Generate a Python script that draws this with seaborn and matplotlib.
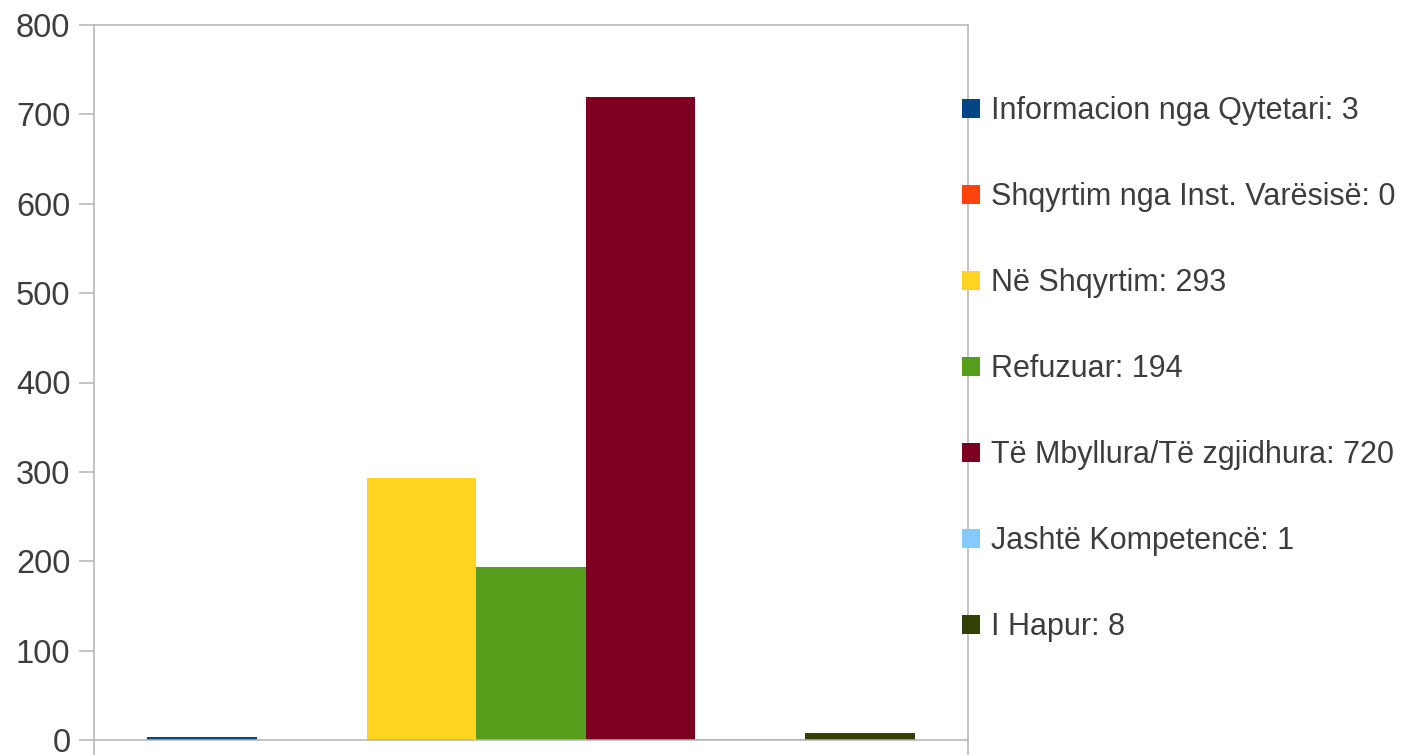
import matplotlib
matplotlib.use("Agg")
import matplotlib.pyplot as plt
import seaborn as sns
import pandas as pd

# Chart data
statuses = ["Informacion nga Qytetari", "Shqyrtim nga Inst. Varësisë", "Në Shqyrtim",
            "Refuzuar", "Të Mbyllura/Të zgjidhura", "Jashtë Kompetencë", "I Hapur"]
counts = [3, 0, 293, 194, 720, 1, 8]
colors = ["#004586", "#ff420e", "#ffd320", "#579d1c", "#7e0021", "#83caff", "#314004"]
y_ticks = [0, 100, 200, 300, 400, 500, 600, 700, 800]

labels = [f"{s}: {c}" for s, c in zip(statuses, counts)]
df = pd.DataFrame({"group": [""] * len(statuses), "status": labels, "count": counts})

sns.set_style("white")
plt.rcParams["font.family"] = ["Liberation Sans", "DejaVu Sans"]

grid_col = "#b3b3b3"
text_col = "#3d3d3d"

fig = plt.figure(figsize=(14.1, 7.55), dpi=100)
ax = fig.add_axes([94 / 1410, 15 / 755, (968 - 94) / 1410, (740 - 25) / 755])

sns.barplot(data=df, x="group", y="count", hue="status", palette=colors,
            width=0.878, gap=0, saturation=1, linewidth=0, ax=ax)

ax.set_xlim(-0.5, 0.5)
ax.set_ylim(0, 800)
ax.set_yticks(y_ticks)
ax.set_xticks([-0.5, 0.5])
ax.set_xticklabels(["", ""])
ax.set_xlabel("")
ax.set_ylabel("")

for sp in ax.spines.values():
    sp.set_visible(True)
    sp.set_color(grid_col)
    sp.set_linewidth(1.1)

ax.tick_params(axis="y", direction="out", length=11, width=1.1, color=grid_col,
               labelsize=23.5, labelcolor=text_col, pad=6, left=True)
ax.tick_params(axis="x", direction="out", length=11, width=1.1, color=grid_col,
               bottom=True)

# Legend on the right
handles, lbls = ax.get_legend_handles_labels()
ax.legend(handles, lbls, loc="upper left", bbox_to_anchor=(962 / 1410, 1 - 96 / 755),
          bbox_transform=fig.transFigure, frameon=False, fontsize=22,
          handlelength=0.6, handleheight=0.6, handletextpad=0.36,
          labelspacing=1.835, labelcolor=text_col, borderaxespad=0, borderpad=0)

fig.savefig("out.png", dpi=100)
